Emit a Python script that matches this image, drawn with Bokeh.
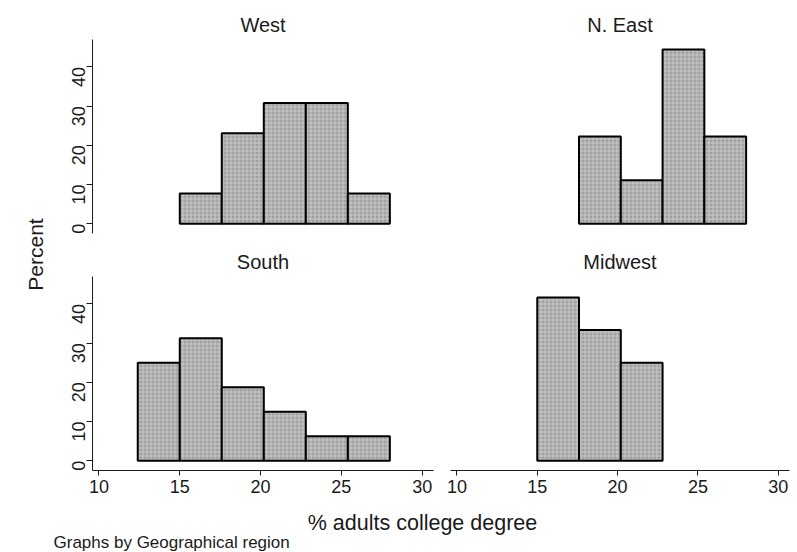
import math
from bokeh.plotting import figure
from bokeh.layouts import row, column
from bokeh.models import FixedTicker, ColumnDataSource
from bokeh.core.properties import value
from bokeh.embed import file_html
from bokeh.resources import INLINE

# ---------------- data ----------------
bin_edges = [12.4, 15.0, 17.6, 20.2, 22.8, 25.4, 28.0]
regions = ["West", "N. East", "South", "Midwest"]
west_pct = [0.0, 7.69, 23.08, 30.77, 30.77, 7.69]
neast_pct = [0.0, 0.0, 22.22, 11.11, 44.44, 22.22]
south_pct = [25.0, 31.25, 18.75, 12.5, 6.25, 6.25]
midwest_pct = [0.0, 41.67, 33.33, 25.0, 0.0, 0.0]
y_ticks = [0, 10, 20, 30, 40]
x_ticks = [10, 15, 20, 25, 30]
x_title = "% adults college degree"
y_title = "Percent"
note = "Graphs by Geographical region"

FONT = "Liberation Sans"
INK = "#1a1a1a"
XR = (9.6, 30.7)
YR = (-2.5, 47.0)


def panel(name, pct, width, height, mb_left, mb_right, mb_top, mb_bottom,
          show_x, show_y):
    p = figure(width=width, height=height, x_range=XR, y_range=YR,
               output_backend="svg", toolbar_location=None,
               min_border_left=mb_left, min_border_right=mb_right,
               min_border_top=mb_top, min_border_bottom=mb_bottom)
    p.outline_line_color = None
    p.grid.visible = False
    p.background_fill_color = "white"
    p.border_fill_color = "white"
    lefts, rights, tops = [], [], []
    for i, v in enumerate(pct):
        if v > 0:
            lefts.append(bin_edges[i])
            rights.append(bin_edges[i + 1])
            tops.append(v)
    src = ColumnDataSource(dict(left=lefts, right=rights, top=tops,
                                bottom=[0] * len(tops)))
    p.quad(left="left", right="right", top="top", bottom="bottom", source=src,
           fill_color="#a2a2a2", line_color="black", line_width=2,
           hatch_pattern="+", hatch_color="#e2e2e2", hatch_alpha=0.55,
           hatch_scale=4, hatch_weight=1)
    p.title.text = name
    p.title.align = "center"
    p.title.text_font = FONT
    p.title.text_font_size = "20px"
    p.title.text_font_style = "normal"
    p.title.text_color = INK
    p.title.standoff = 7
    for ax in p.xaxis:
        ax.ticker = FixedTicker(ticks=x_ticks)
        ax.major_tick_out = 5
        ax.major_tick_in = 0
        ax.minor_tick_out = 0
        ax.minor_tick_in = 0
        ax.axis_line_color = INK
        ax.major_tick_line_color = INK
        ax.major_label_text_font = FONT
        ax.major_label_text_font_size = "18px"
        ax.major_label_text_color = INK
        ax.major_label_standoff = 4
        ax.visible = show_x
    for ax in p.yaxis:
        ax.ticker = FixedTicker(ticks=y_ticks)
        ax.major_tick_out = 6
        ax.major_tick_in = 0
        ax.minor_tick_out = 0
        ax.minor_tick_in = 0
        ax.axis_line_color = INK
        ax.major_tick_line_color = INK
        ax.major_label_text_font = FONT
        ax.major_label_text_font_size = "18px"
        ax.major_label_text_color = INK
        ax.major_label_orientation = math.pi / 2
        ax.major_label_standoff = 8
        ax.visible = show_y
    return p


TOP_H, BOT_H = 245, 255
LW, RW = 394, 355

tl = panel(regions[0], west_pct, LW, TOP_H, 44, 9, 39, 12, False, True)
tr = panel(regions[1], neast_pct, RW, TOP_H, 8, 8, 39, 12, False, False)
bl = panel(regions[2], south_pct, LW, BOT_H, 44, 9, 31, 30, True, True)
br = panel(regions[3], midwest_pct, RW, BOT_H, 8, 8, 31, 30, True, False)

# left strip with the shared y title
PW, PH = 48, TOP_H + BOT_H
pl = figure(width=PW, height=PH, x_range=(0, PW), y_range=(0, PH),
            output_backend="svg", toolbar_location=None,
            min_border=0)
pl.title = None
pl.axis.visible = False
pl.grid.visible = False
pl.outline_line_color = None
pl.text(x=[35], y=[PH - 254], text=[y_title], angle=math.pi / 2,
        text_align="center", text_baseline="middle",
        text_font=value(FONT), text_font_size="21px", text_color=INK)

# bottom strip with the shared x title and note
BW, BH = PW + LW + RW, 52
pb = figure(width=BW, height=BH, x_range=(0, BW), y_range=(0, BH),
            output_backend="svg", toolbar_location=None,
            min_border=0)
pb.title = None
pb.axis.visible = False
pb.grid.visible = False
pb.outline_line_color = None
pb.text(x=[422], y=[30], text=[x_title], text_align="center",
        text_baseline="alphabetic", text_font=value(FONT),
        text_font_size="21.5px", text_color=INK)
pb.text(x=[53], y=[10], text=[note], text_align="left",
        text_baseline="alphabetic", text_font=value(FONT),
        text_font_size="17px", text_color=INK)

layout = column(row(pl, column(row(tl, tr), row(bl, br))), pb)

open("out.html", "w").write(file_html(layout, INLINE))
